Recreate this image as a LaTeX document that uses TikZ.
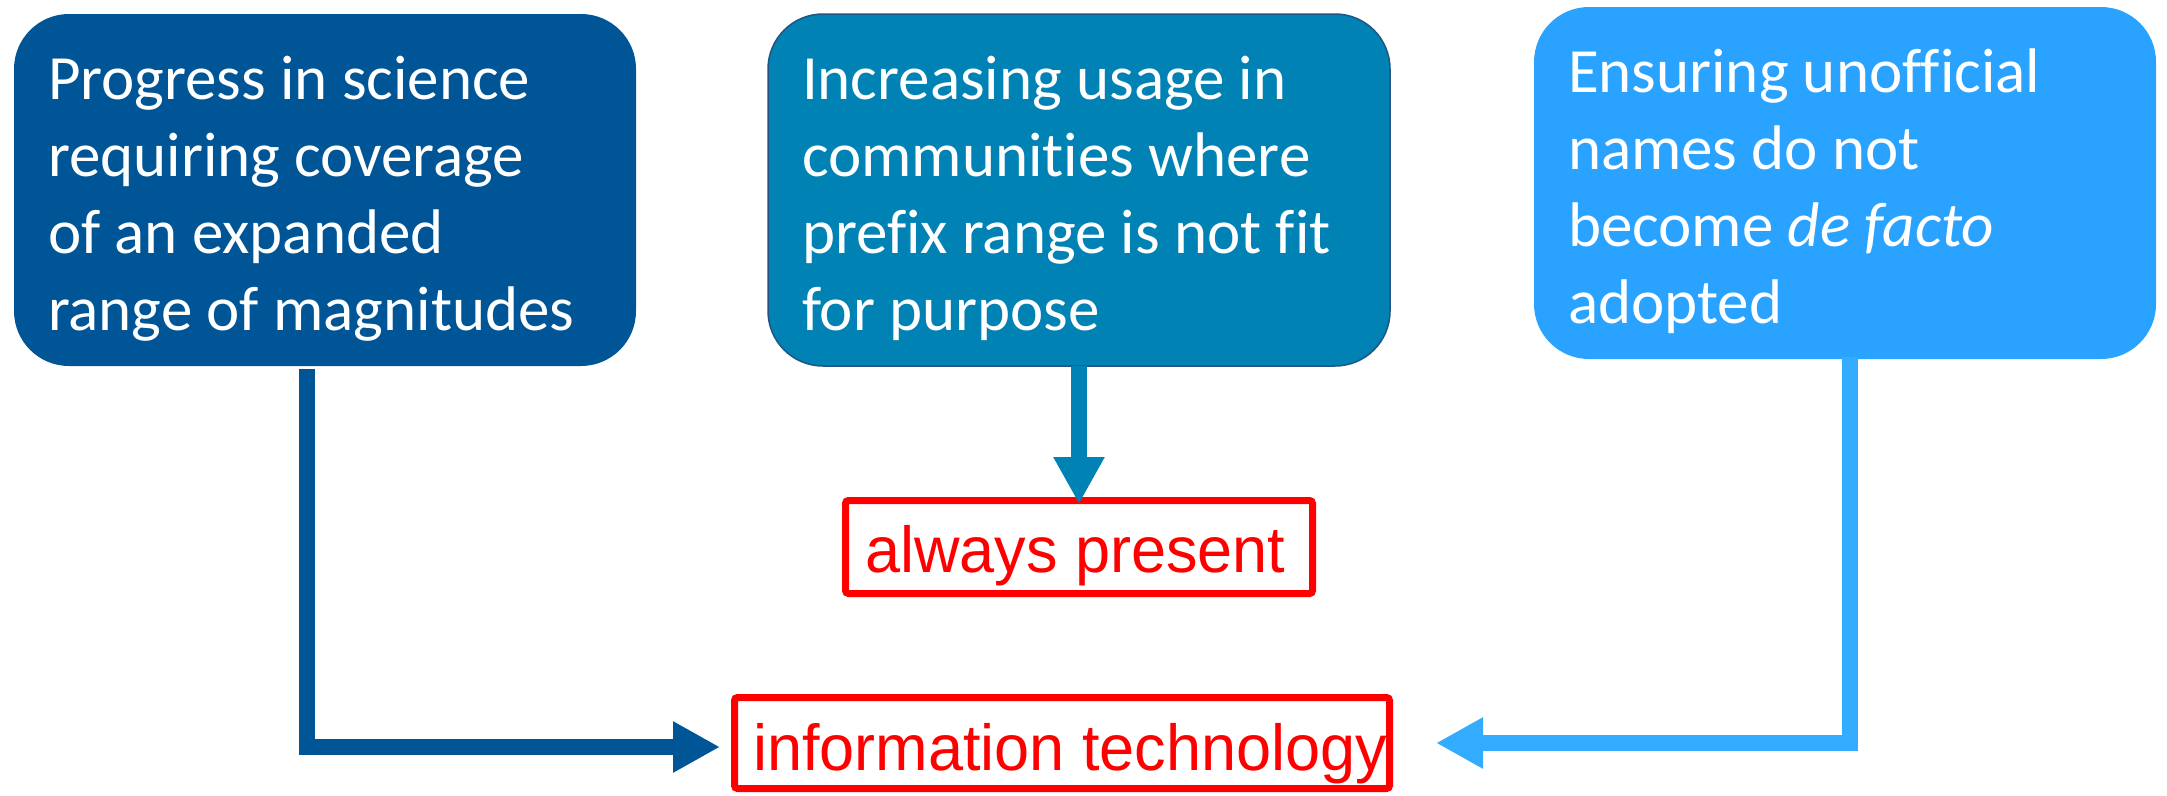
\documentclass[tikz,border=0pt]{standalone}
\usepackage{fontspec}
\setmainfont{Carlito}[Ligatures=NoCommon]
\newfontfamily\redfont[FakeStretch=0.97]{Liberation Sans}
\usetikzlibrary{arrows.meta}
\definecolor{cA}{RGB}{0,85,150}
\definecolor{cB}{RGB}{0,130,180}
\definecolor{cBline}{RGB}{30,85,130}
\definecolor{cC}{RGB}{41,163,255}
\definecolor{cCarrow}{RGB}{51,171,255}
\definecolor{cRed}{RGB}{255,0,0}
\newcommand{\boxtext}[1]{\parbox[c][352pt][t]{554pt}{\fontsize{63pt}{77pt}\selectfont\raggedright\vspace*{32pt}\strut #1}}
\tikzset{
  bluebox/.style={rounded corners=55pt, inner xsep=34pt, inner ysep=0pt, anchor=north west, text=white, outer sep=0pt},
  redbox/.style={draw=cRed, line width=7pt, rounded corners=3pt, inner ysep=0pt, outer sep=0pt, anchor=north west, text=cRed, font=\redfont\fontsize{65pt}{78pt}\selectfont},
  conn/.style={line width=15.5pt, -{Triangle[length=47pt,width=48pt]}}
}
\begin{document}
\begin{tikzpicture}[x=1pt,y=-1pt]
\useasboundingbox (0,0) rectangle (2167,795);
\node[bluebox, fill=cA] (b1) at (14,14) {\boxtext{Progress in science\\requiring coverage\\of an expanded\\range of magnitudes}};
\node[bluebox, fill=cB, draw=cBline, line width=1.5pt] (b2) at (768,14) {\boxtext{Increasing usage in\\communities where\\prefix range is not fit\\for purpose}};
\node[bluebox, fill=cC] (b3) at (1534,7) {\boxtext{Ensuring unofficial\\names do not\\become \textit{de facto}\\adopted}};
\node[redbox, text height=71.5pt, text depth=21.5pt, inner xsep=19.5pt] (ap) at (845.5,500.5) {\makebox[428pt][l]{always present}};
\node[redbox, text height=72.5pt, text depth=18.5pt, inner xsep=18.5pt] (it) at (734.5,697.5) {\makebox[618pt][l]{information technology}};
\draw[conn, draw=cA, shorten >=14.5pt] ([xshift=-18pt,yshift=-3pt]b1.south) |- ([yshift=-4pt]it.west);
\draw[conn, draw=cB, shorten >=-3.5pt] (b2.south) -- (ap.north);
\draw[conn, draw=cCarrow, shorten >=46.5pt] ([xshift=5pt,yshift=2pt]b3.south) |- (it.east);
\end{tikzpicture}
\end{document}
